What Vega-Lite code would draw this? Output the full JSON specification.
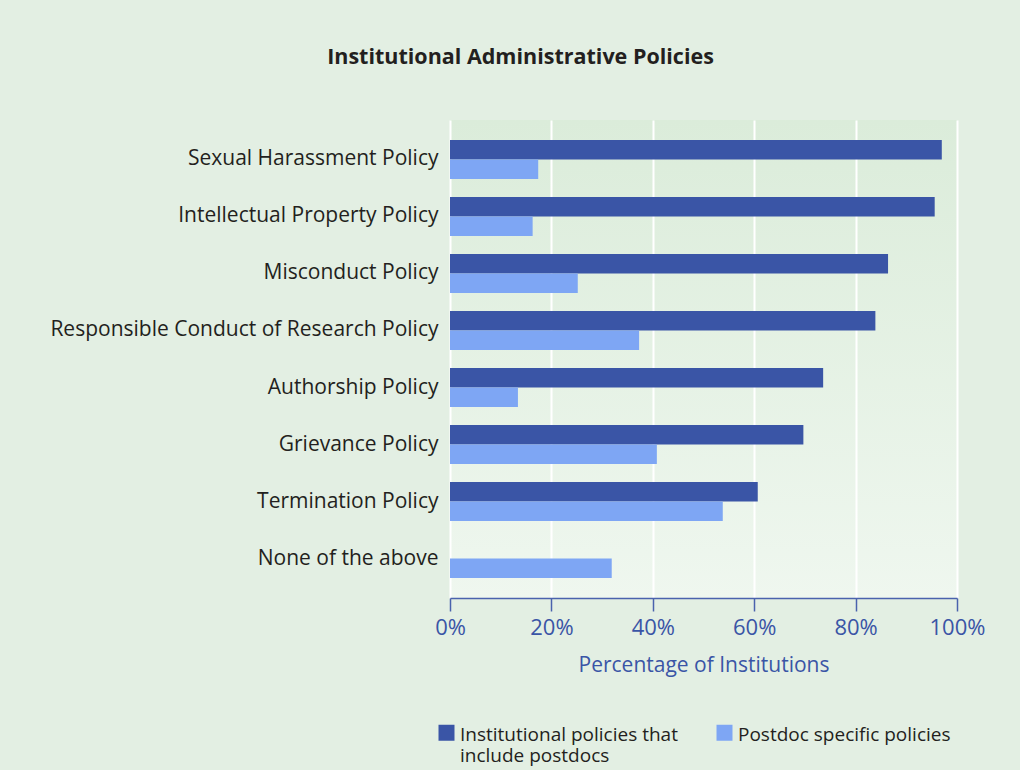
{
  "$schema": "https://vega.github.io/schema/vega-lite/v6.json",
  "width": 507,
  "height": 478,
  "autosize": {"type": "none"},
  "padding": {"left": 450, "top": 120, "right": 63, "bottom": 172},
  "background": "#e3efe3",
  "title": {
    "text": "Institutional Administrative Policies",
    "font": "Open Sans",
    "fontSize": 21.5,
    "fontWeight": "bold",
    "color": "#231f20",
    "anchor": "middle",
    "dx": -183,
    "offset": 52
  },
  "data": {
    "values": [
      {"policy": "Sexual Harassment Policy", "series": "Institutional policies that include postdocs", "value": 97.0},
      {"policy": "Sexual Harassment Policy", "series": "Postdoc specific policies", "value": 17.4},
      {"policy": "Intellectual Property Policy", "series": "Institutional policies that include postdocs", "value": 95.6},
      {"policy": "Intellectual Property Policy", "series": "Postdoc specific policies", "value": 16.3},
      {"policy": "Misconduct Policy", "series": "Institutional policies that include postdocs", "value": 86.4},
      {"policy": "Misconduct Policy", "series": "Postdoc specific policies", "value": 25.2},
      {"policy": "Responsible Conduct of Research Policy", "series": "Institutional policies that include postdocs", "value": 83.9},
      {"policy": "Responsible Conduct of Research Policy", "series": "Postdoc specific policies", "value": 37.3},
      {"policy": "Authorship Policy", "series": "Institutional policies that include postdocs", "value": 73.6},
      {"policy": "Authorship Policy", "series": "Postdoc specific policies", "value": 13.4},
      {"policy": "Grievance Policy", "series": "Institutional policies that include postdocs", "value": 69.7},
      {"policy": "Grievance Policy", "series": "Postdoc specific policies", "value": 40.8},
      {"policy": "Termination Policy", "series": "Institutional policies that include postdocs", "value": 60.7},
      {"policy": "Termination Policy", "series": "Postdoc specific policies", "value": 53.8},
      {"policy": "None of the above", "series": "Postdoc specific policies", "value": 31.9}
    ]
  },
  "mark": {"type": "bar"},
  "encoding": {
    "y": {
      "field": "policy",
      "type": "nominal",
      "sort": null,
      "scale": {
        "domain": ["Sexual Harassment Policy", "Intellectual Property Policy", "Misconduct Policy", "Responsible Conduct of Research Policy", "Authorship Policy", "Grievance Policy", "Termination Policy", "None of the above"],
        "paddingInner": 0.317,
        "paddingOuter": 0.35
      },
      "axis": {
        "title": null,
        "ticks": false,
        "domain": false,
        "grid": false,
        "labelFont": "Open Sans",
        "labelFontSize": 21,
        "labelColor": "#231f20",
        "labelPadding": 12,
        "labelLimit": 500,
        "labelOffset": 0
      }
    },
    "yOffset": {
      "field": "series",
      "type": "nominal",
      "scale": {"domain": ["Institutional policies that include postdocs", "Postdoc specific policies"], "paddingInner": 0, "paddingOuter": 0}
    },
    "x": {
      "field": "value",
      "type": "quantitative",
      "scale": {"domain": [0, 100], "nice": false},
      "axis": {
        "title": "Percentage of Institutions",
        "titleFont": "Open Sans",
        "titleFontSize": 21,
        "titleFontWeight": "normal",
        "titleColor": "#3a55a6",
        "titlePadding": 16,
        "values": [0, 20, 40, 60, 80, 100],
        "labelExpr": "datum.value + '%'",
        "labelFont": "Open Sans",
        "labelFontSize": 22,
        "labelColor": "#3a55a6",
        "labelPadding": 6,
        "labelFlush": false,
        "domainColor": "#4a62ad",
        "domainWidth": 1.5,
        "tickColor": "#4a62ad",
        "tickWidth": 1.5,
        "tickSize": 13,
        "grid": true,
        "gridColor": "#ffffff",
        "gridWidth": 2,
        "gridOpacity": 1
      }
    },
    "color": {
      "field": "series",
      "type": "nominal",
      "scale": {"domain": ["Institutional policies that include postdocs", "Postdoc specific policies"], "range": ["#3a55a6", "#7ea6f4"]},
      "legend": {
        "title": null,
        "orient": "none",
        "legendX": -13,
        "legendY": 611,
        "direction": "horizontal",
        "columns": 2,
        "columnPadding": 37,
        "padding": 0,
        "symbolType": "M-1,-2H1V0H-1Z",
        "symbolSize": 256,
        "symbolStrokeWidth": 0,
        "symbolOpacity": 1,
        "labelFont": "Open Sans",
        "labelFontSize": 19,
        "labelColor": "#231f20",
        "labelOffset": 4,
        "labelLimit": 400,
        "labelBaseline": "alphabetic",
        "labelExpr": "datum.label == 'Institutional policies that include postdocs' ? ['Institutional policies that', 'include postdocs'] : [datum.label, ' ']"
      }
    }
  },
  "config": {
    "view": {
      "stroke": null,
      "fill": {
        "gradient": "linear",
        "x1": 0, "y1": 0, "x2": 0, "y2": 1,
        "stops": [
          {"offset": 0, "color": "#dbecda"},
          {"offset": 1, "color": "#eff7ef"}
        ]
      }
    }
  }
}
